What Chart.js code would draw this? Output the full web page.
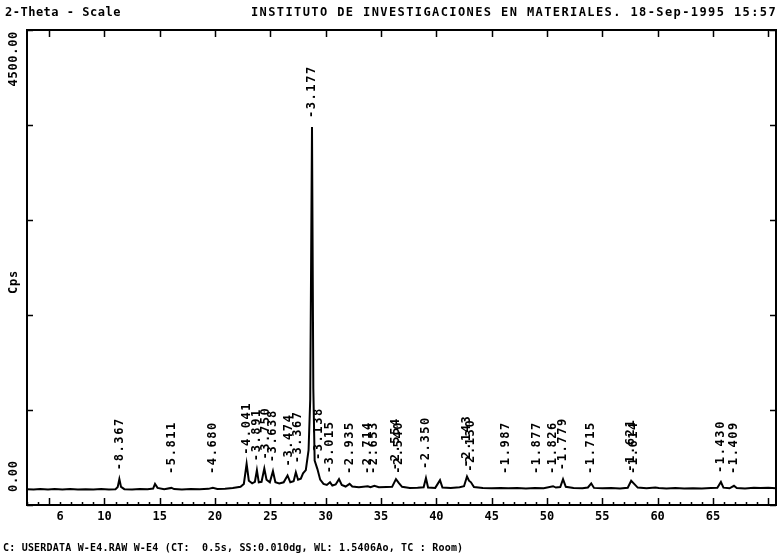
<!DOCTYPE html>
<html>
<head>
<meta charset="utf-8">
<script src="https://cdn.jsdelivr.net/npm/chart.js@4"></script>
<style>
  html, body { margin: 0; padding: 0; background: #fff; }
  #wrap { width: 779px; height: 560px; position: relative; }
</style>
</head>
<body>
<div id="wrap"><canvas id="xrd_Chart"></canvas></div>
<script>
// scan: 2-theta (deg) and counts per second
const twoTheta = [
  3.0, 3.6, 4.2, 4.9, 5.5, 6.2, 6.9, 7.6, 8.3, 9.0, 9.7, 10.4, 11.0, 11.2, 11.35, 11.5, 11.8,
  12.5, 13.2, 13.9, 14.4, 14.57, 14.8, 15.4, 16.05, 16.3, 17.0, 17.8, 18.6, 19.4, 19.8, 20.2,
  20.9, 21.6, 22.3, 22.6, 22.85, 23.05, 23.35, 23.6, 23.78, 23.95, 24.2, 24.45, 24.65, 24.95,
  25.23, 25.45, 25.8, 26.2, 26.55, 26.8, 27.1, 27.3, 27.5, 27.75, 27.95, 28.2, 28.45, 28.6,
  28.76, 28.88, 29.0, 29.25, 29.5, 29.8, 30.1, 30.39, 30.6, 30.9, 31.2, 31.45, 31.8, 32.16,
  32.4, 33.0, 33.8, 34.05, 34.4, 34.8, 35.5, 36.0, 36.35, 36.6, 36.9, 37.6, 38.3, 38.85, 39.06,
  39.25, 39.9, 40.33, 40.55, 41.3, 42.1, 42.5, 42.77, 42.95, 43.13, 43.4, 44.2, 45.0, 45.8,
  46.5, 47.3, 48.1, 48.9, 49.7, 50.55, 50.8, 51.2, 51.45, 51.7, 52.4, 53.2, 53.7, 54.0, 54.25,
  55.0, 55.8, 56.6, 57.3, 57.61, 57.88, 58.2, 59.0, 59.8, 60.1, 60.8, 61.6, 62.4, 63.2, 64.0,
  64.8, 65.4, 65.72, 65.95, 66.5, 66.9, 67.15, 67.9, 68.7, 69.3, 70.0, 70.7
];
const cps = [
  150, 146, 152, 147, 151, 148, 152, 147, 150, 146, 151, 148, 150, 170, 245, 172, 150,
  147, 151, 149, 156, 200, 162, 150, 162, 151, 148, 152, 149, 153, 164, 152,
  155, 160, 172, 200, 390, 230, 205, 220, 330, 215, 220, 345, 240, 215,
  320, 215, 205, 215, 280, 215, 225, 310, 240, 250, 300, 330, 520, 1000,
  3580, 1100, 420, 340, 240, 200, 190, 215, 185, 195, 245, 190, 175, 200,
  175, 168, 178, 168, 182, 168, 170, 172, 245, 210, 172, 162, 164, 168, 255,
  166, 162, 235, 166, 162, 168, 178, 270, 230, 215, 170, 160, 158, 162,
  158, 160, 157, 161, 158, 178, 165, 170, 245, 172, 160, 158, 166, 205, 162,
  158, 160, 157, 164, 230, 200, 165, 158, 166, 162, 157, 160, 156, 159, 157,
  160, 163, 218, 164, 158, 182, 160, 157, 163, 160, 164, 158
];

// d-spacing labels (Angstrom) and the 2-theta where each is printed
const peakNames = [
  '8.367', '5.811', '4.680', '4.041', '3.891', '3.750', '3.638', '3.474', '3.367', '3.177',
  '3.138', '3.015', '2.935', '2.714', '2.653', '2.554', '2.540', '2.350', '2.143', '2.130',
  '1.987', '1.877', '1.826', '1.779', '1.715', '1.621', '1.614', '1.430', '1.409'
];
const peakAngles = [
  11.35, 16.1, 19.8, 22.88, 23.79, 24.6, 25.23, 26.68, 27.49, 28.76,
  29.39, 30.39, 32.19, 33.82, 34.36, 36.35, 36.62, 39.06, 42.77, 43.13,
  46.3, 49.1, 50.55, 51.45, 54.0, 57.61, 57.88, 65.72, 66.9
];

const xTicks = [6, 10, 15, 20, 25, 30, 35, 40, 45, 50, 55, 60, 65];
const yLabels = ['0.00', '4500.00'];

const headLeft = '2-Theta - Scale';
const headRight = 'INSTITUTO DE INVESTIGACIONES EN MATERIALES. 18-Sep-1995 15:57';
const footer = 'C: USERDATA W-E4.RAW W-E4 (CT:  0.5s, SS:0.010dg, WL: 1.5406Ao, TC : Room)';

const MONO = '"DejaVu Sans Mono", "Liberation Mono", monospace';

const framePlugin = {
  id: 'xrdFrame',
  afterDraw(chart) {
    const { ctx, chartArea: a, scales: { x, y } } = chart;
    ctx.save();
    ctx.strokeStyle = '#000';
    ctx.fillStyle = '#000';

    // frame
    ctx.lineWidth = 2;
    ctx.strokeRect(a.left, a.top, a.right - a.left, a.bottom - a.top);

    // inward tick marks
    ctx.lineWidth = 1.5;
    ctx.beginPath();
    y.ticks.forEach(t => {
      const py = Math.round(y.getPixelForValue(t.value)) + 0.5;
      ctx.moveTo(a.left, py); ctx.lineTo(a.left + 6, py);
      ctx.moveTo(a.right, py); ctx.lineTo(a.right - 6, py);
    });
    for (let v = Math.ceil(x.min); v <= x.max; v++) {
      const px = Math.round(x.getPixelForValue(v)) + 0.5;
      const major = v % 5 === 0;
      ctx.moveTo(px, a.bottom); ctx.lineTo(px, a.bottom - (major ? 7 : 3));
      if (major) { ctx.moveTo(px, a.top); ctx.lineTo(px, a.top + 7); }
    }
    ctx.stroke();

    // peak d-spacing labels, riding just above the trace
    ctx.font = 'bold 12px ' + MONO;
    ctx.letterSpacing = '1.6px';
    peakNames.forEach((name, i) => {
      const at = peakAngles[i];
      let top = 0;
      twoTheta.forEach((t, j) => { if (Math.abs(t - at) <= 0.2) top = Math.max(top, cps[j]); });
      const px = x.getPixelForValue(at);
      const py = Math.min(y.getPixelForValue(top) - 9, a.bottom - 31);
      ctx.save();
      ctx.translate(px, py);
      ctx.rotate(-Math.PI / 2);
      ctx.textAlign = 'left';
      ctx.textBaseline = 'middle';
      ctx.fillText('-' + name, 0, 0);
      ctx.restore();
    });

    // y labels and axis name, rotated
    ctx.letterSpacing = '0.7px';
    ctx.textBaseline = 'middle';
    const lx = a.left - 13;
    ctx.save();
    ctx.translate(lx, y.getPixelForValue(y.max) + 1);
    ctx.rotate(-Math.PI / 2);
    ctx.textAlign = 'right';
    ctx.fillText(yLabels[1], 0, 0);
    ctx.restore();
    ctx.save();
    ctx.translate(lx, y.getPixelForValue(y.min) - 13);
    ctx.rotate(-Math.PI / 2);
    ctx.textAlign = 'left';
    ctx.fillText(yLabels[0], 0, 0);
    ctx.restore();
    ctx.save();
    ctx.translate(lx, 282);
    ctx.rotate(-Math.PI / 2);
    ctx.textAlign = 'center';
    ctx.fillText('Cps', 0, 0);
    ctx.restore();

    // header and footer lines
    ctx.textAlign = 'left';
    ctx.letterSpacing = '0.5px';
    ctx.fillText(headLeft, 5, 13);
    ctx.letterSpacing = '1.4px';
    ctx.textAlign = 'right';
    ctx.fillText(headRight, 777, 13);
    ctx.textAlign = 'left';
    ctx.letterSpacing = '0.2px';
    ctx.font = 'bold 10px ' + MONO;
    ctx.fillText(footer, 3, 548);

    ctx.restore();
  }
};

const ctx = document.getElementById('xrd_Chart').getContext('2d');

const xrdChart = new Chart(ctx, {
  type: 'line',
  data: {
    datasets: [{
      data: twoTheta.map((t, i) => ({ x: t, y: cps[i] })),
      borderColor: '#000',
      borderWidth: 2,
      pointRadius: 0,
      tension: 0,
      fill: false
    }]
  },
  options: {
    responsive: true,
    maintainAspectRatio: false,
    animation: false,
    layout: { padding: { left: 27, right: 3, top: 30, bottom: 30.6 } },
    plugins: { legend: { display: false }, tooltip: { enabled: false } },
    scales: {
      x: {
        type: 'linear',
        min: 3,
        max: 70.7,
        afterBuildTicks: scale => { scale.ticks = xTicks.map(v => ({ value: v })); },
        grid: { display: false, drawTicks: false },
        border: { display: false },
        ticks: {
          autoSkip: false,
          maxRotation: 0,
          padding: 5,
          color: '#000',
          font: { family: MONO, size: 12, weight: 'bold' },
          callback: v => String(v)
        }
      },
      y: {
        min: 0,
        max: 4500,
        grid: { display: false, drawTicks: false },
        border: { display: false },
        ticks: { stepSize: 900, display: false }
      }
    }
  },
  plugins: [framePlugin]
});
</script>
</body>
</html>
